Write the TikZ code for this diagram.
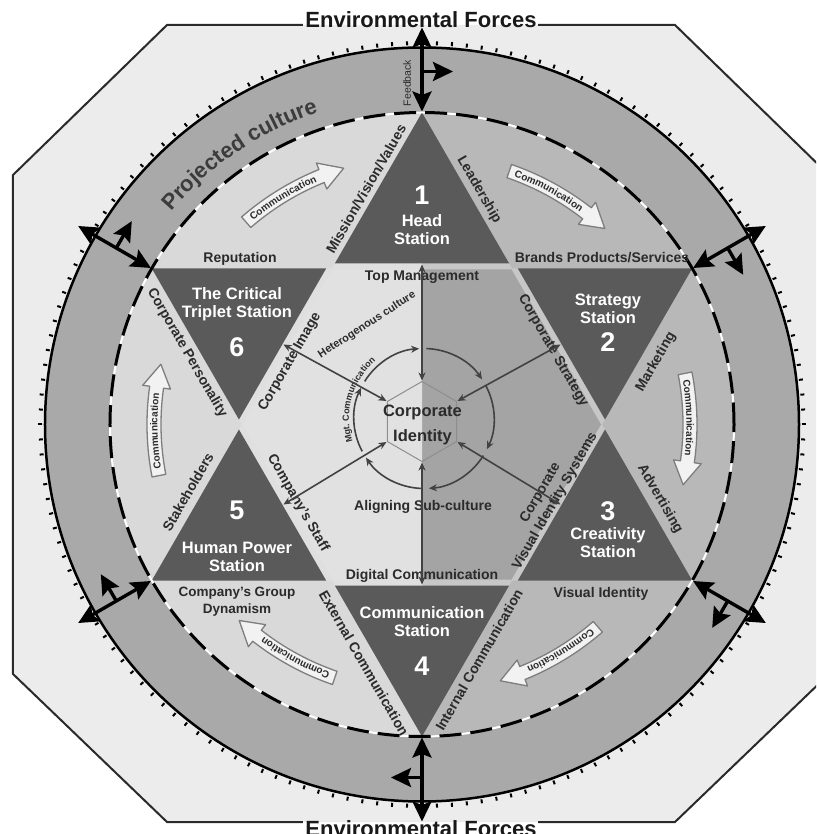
\documentclass[tikz,border=0pt]{standalone}
\usepackage{fontspec}
\setmainfont{Liberation Sans}
\usetikzlibrary{arrows.meta,decorations.text}

\definecolor{octfill}{HTML}{ECECEC}
\definecolor{octline}{HTML}{2A2A2A}
\definecolor{ringfill}{HTML}{A9A9A9}
\definecolor{innerL}{HTML}{D9D9D9}
\definecolor{innerR}{HTML}{B8B8B8}
\definecolor{bandL}{HTML}{DFDFDF}
\definecolor{bandR}{HTML}{C7C7C7}
\definecolor{hexL}{HTML}{E1E1E1}
\definecolor{hexR}{HTML}{A4A4A4}
\definecolor{station}{HTML}{5A5A5A}
\definecolor{ink}{HTML}{2B2B2B}
\definecolor{inksoft}{HTML}{3C3C3C}
\definecolor{commfill}{HTML}{F2F2F2}
\definecolor{commline}{HTML}{7E7E7E}
\definecolor{hubline}{HTML}{424242}
\definecolor{hexline}{HTML}{8E8E8E}

\tikzset{
  bigtip/.tip={Stealth[length=20pt,width=19pt,inset=3.5pt]},
  hubtip/.tip={Stealth[length=8pt,width=7pt,inset=2.5pt]},
  lbl/.style={text=ink, inner sep=0pt, font=\bfseries\fontsize{14}{14}\selectfont},
  stnname/.style={text=white, inner sep=0pt, align=center, font=\bfseries\fontsize{16.5}{18}\selectfont},
  stnnum/.style={text=white, inner sep=0pt, font=\bfseries\fontsize{27}{27}\selectfont},
  forcearrow/.style={line width=3.4pt, draw=black},
  hubarrow/.style={line width=1.6pt, draw=hubline},
  octedge/.style={line width=2pt, draw=octline, line join=miter},
  title/.style={text=black!90, inner sep=0pt, font=\bfseries\fontsize{22}{22}\selectfont}
}

\begin{document}
\begin{tikzpicture}[x=1pt, y=1pt]
\useasboundingbox (-422,-409.5) rectangle (394,424.5);
\clip (-422,-409.5) rectangle (394,424.5);
\fill[white] (-422,-409.5) rectangle (394,424.5);

% octagonal frame
\fill[octfill] (-255,399.5) -- (253,399.5) -- (407,249.5) -- (407,-249.5)
  -- (253,-397.5) -- (-255,-397.5) -- (-409,-249.5) -- (-409,249.5) -- cycle;

% outer ring and its ticked rim
\fill[ringfill] (0,0) circle[radius=377];
\foreach \k [evaluate=\k as \ang using \k*2.25] in {0,...,159}
  \draw[black, line width=2pt] (\ang:379.5) -- (\ang:383.5);

% inner disc, split in two tones
\fill[innerR] (0,-312) arc[start angle=-90, end angle=90, radius=312] -- cycle;
\fill[innerL] (0,312) arc[start angle=90, end angle=270, radius=312] -- cycle;

% light hexagram band
\begin{scope}
  \clip (0,-330) rectangle (330,330);
  \fill[bandR] (90:312) -- (210:312) -- (330:312) -- cycle;
  \fill[bandR] (30:312) -- (150:312) -- (270:312) -- cycle;
\end{scope}
\begin{scope}
  \clip (-330,-330) rectangle (0,330);
  \fill[bandL] (90:312) -- (210:312) -- (330:312) -- cycle;
  \fill[bandL] (30:312) -- (150:312) -- (270:312) -- cycle;
\end{scope}

% central hexagon
\fill[hexR] (0,155) -- (60:179) -- (0:179) -- (-60:179) -- (0,-155) -- cycle;
\fill[hexL] (0,155) -- (120:179) -- (180:179) -- (240:179) -- (0,-155) -- cycle;

% six station triangles
\foreach \a in {90,30,-30,-90,-150,150}
  \fill[station, rotate=\a] (312,0) -- (161,87.2) -- (161,-87.2) -- cycle;

% rim circle and dashed boundary
\draw[black, line width=2.5pt] (0,0) circle[radius=377];
\draw[white, line width=2pt] (0,0) circle[radius=312];
\draw[black, line width=3pt, dash pattern=on 22pt off 9pt] (0,0) circle[radius=312];

% curved communication arrows
\foreach \t in {120,60,0,-60,-120,180} {
  \pgfmathsetmacro\ta{\t+11}
  \pgfmathsetmacro\tb{\t-8}
  \pgfmathsetmacro\tc{\t-13}
  \filldraw[fill=commfill, draw=commline, line width=1.3pt, line join=round]
    (\ta:275) arc[start angle=\ta, end angle=\tb, radius=275]
    -- (\tb:282) -- (\tc:268) -- (\tb:254) -- (\tb:261)
    arc[start angle=\tb, end angle=\ta, radius=261] -- cycle;
  \path[decorate, decoration={text along path, text align=center,
      text={|\bfseries\fontsize{10}{10}\selectfont\color{ink}|Communication}}]
    (\ta:264.5) arc[start angle=\ta, end angle=\tb, radius=264.5];
}

% projected culture lettering
\path[decorate, decoration={text along path, text align=center,
    text={|\bfseries\fontsize{22}{22}\selectfont\color{inksoft}|Projected culture}}]
  (153:329) arc[start angle=153, end angle=95, radius=329];

% station labels
\node[stnnum] (n1) at (0,229.5) {1};
\node[stnname] (s1) at (0,194.5) {Head\\Station};
\node[stnname] (s2) at (186,115.5) {Strategy\\Station};
\node[stnnum] (n2) at (186,82.5) {2};
\node[stnnum] (n3) at (186,-86.5) {3};
\node[stnname] (s3) at (186,-118.5) {Creativity\\Station};
\node[stnname] (s4) at (0,-197) {Communication\\Station};
\node[stnnum] (n4) at (0,-241.5) {4};
\node[stnnum] (n5) at (-185,-85.5) {5};
\node[stnname] (s5) at (-185,-132) {Human Power\\Station};
\node[stnname] (s6) at (-185,120.5) {The Critical\\Triplet Station};
\node[stnnum] (n6) at (-185,77.5) {6};

% edge labels
\node[lbl] (rep) at (-182,165.5) {Reputation};
\node[lbl] (brands) at (180,166.5) {Brands Products/Services};
\node[lbl] (topm) at (0,147.5) {Top Management};
\node[lbl] (aligning) at (1,-82.5) {Aligning Sub-culture};
\node[lbl] (digi) at (0,-151.5) {Digital Communication};
\node[lbl, align=center, font=\bfseries\fontsize{13.5}{17}\selectfont] (cgd) at (-185,-177.5) {Company's Group\\Dynamism};
\node[lbl] (vis) at (179,-169.5) {Visual Identity};
\node[lbl, rotate=60] (mvv) at (-56,235.5) {Mission/Vision/Values};
\node[lbl, rotate=-60] (lead) at (57,234.5) {Leadership};
\node[lbl, rotate=-60] (cpers) at (-235,71.5) {Corporate Personality};
\node[lbl, rotate=60] (cimg) at (-132,62.5) {Corporate Image};
\node[lbl, rotate=60] (stake) at (-234,-67.5) {Stakeholders};
\node[lbl, rotate=-60] (staff) at (-124,-78.5) {Company's Staff};
\node[lbl, rotate=-60] (cstrat) at (131,73.5) {Corporate Strategy};
\node[lbl, rotate=60] (mkt) at (234,62.5) {Marketing};
\node[lbl, rotate=-60] (adv) at (238,-74.5) {Advertising};
\node[lbl, rotate=60, align=center, font=\bfseries\fontsize{14}{17}\selectfont] (cvis) at (126,-72.5) {Corporate\\Visual Identity Systems};
\node[lbl, rotate=-60] (ext) at (-58,-238.5) {External Communication};
\node[lbl, rotate=60] (int) at (57,-235.5) {Internal Communication};
\node[lbl, rotate=33, font=\bfseries\fontsize{11}{11}\selectfont] (het) at (-55,99.5) {Heterogenous culture};
\node[rotate=90, text=ink, inner sep=0pt, font=\fontsize{10.5}{10.5}\selectfont] (fb) at (-15,341.5) {Feedback};

% hub: inner hexagon, circulating arrows, spokes
\draw[hexline, line width=1pt, shift={(0,3)}] (90:40) -- (30:40) -- (-30:40) -- (-90:40) -- (-150:40) -- (150:40) -- cycle;
\foreach \s in {148,88,28,-32,-92,-152} {
  \pgfmathsetmacro\se{\s-54}
  \draw[hubarrow, shift={(2,6)}, -hubtip] (\s:70) arc[start angle=\s, end angle=\se, radius=70];
}
\path[shift={(2,6)}, decorate, decoration={text along path, text align=center,
    text={|\bfseries\fontsize{9}{9}\selectfont\color{ink}|Mgt. Communication}}]
  (205:75) arc[start angle=205, end angle=123, radius=75];
\foreach \a [count=\i] in {90,30,-30,-90,-150,150} {
  \coordinate (ho\i) at (\a:160);
  \coordinate (hi\i) at ([shift={(0,3)}]\a:41);
  \draw[hubarrow, hubtip-hubtip] (ho\i) -- (hi\i);
}
\node[align=center, text=ink, inner sep=0pt, font=\bfseries\fontsize{16.5}{25}\selectfont] (cid) at (0.5,0) {Corporate\\Identity};

% environmental force arrows at the six vertices
\foreach \a [count=\i] in {90,30,-30,-90,-150,150} {
  \begin{scope}[rotate=\a]
    \coordinate (pin\i) at (313,0);
    \coordinate (pout\i) at (397,0);
    \coordinate (pmid\i) at (353,0);
    \coordinate (ptan\i) at (353,-31);
  \end{scope}
  \draw[forcearrow, bigtip-bigtip] (pin\i) -- (pout\i);
  \draw[forcearrow, -bigtip] (pmid\i) -- (ptan\i);
}

% frame outline and titles
\node[title, anchor=base] (toptitle) at (-1,396.5) {Environmental Forces};
\node[title, anchor=base] (bottitle) at (-1,-412) {Environmental Forces};
\draw[octedge] (-119,399.5) -- (-255,399.5) -- (-409,249.5) -- (-409,-249.5) -- (-255,-397.5) -- (-119,-397.5);
\draw[octedge] (116,-397.5) -- (253,-397.5) -- (407,-249.5) -- (407,249.5) -- (253,399.5) -- (116,399.5);
\end{tikzpicture}
\end{document}
